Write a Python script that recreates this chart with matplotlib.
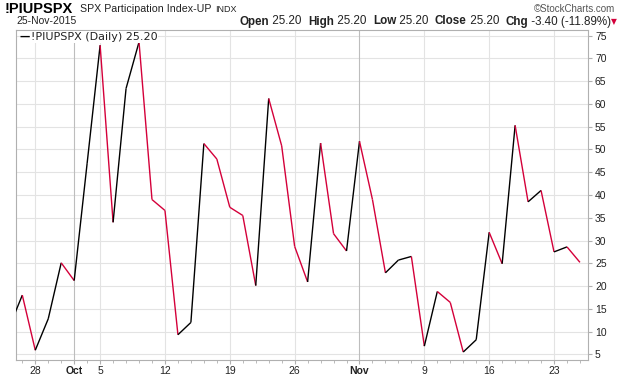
import matplotlib
matplotlib.use('Agg')
import matplotlib.pyplot as plt
from matplotlib.collections import LineCollection
import numpy as np
import pandas as pd

# ---- data ----
dates = pd.bdate_range('2015-09-24', '2015-11-25')
values = [11.0, 18.0, 5.9, 12.8, 25.1, 21.2, 47.0, 72.9, 34.0, 63.4,
          73.6, 39.0, 36.6, 9.3, 12.0, 51.3, 47.9, 37.3, 35.5, 20.1,
          61.2, 50.8, 28.7, 20.9, 51.4, 31.5, 27.7, 51.8, 39.0, 22.9,
          25.7, 26.5, 6.8, 18.8, 16.4, 5.5, 8.2, 31.8, 24.9, 55.3,
          38.5, 41.0, 27.5, 28.6, 25.2]
tick_dates = ['2015-09-28', '2015-10-01', '2015-10-05', '2015-10-12', '2015-10-19',
              '2015-10-26', '2015-11-02', '2015-11-09', '2015-11-16', '2015-11-23']
tick_labels = ['28', 'Oct', '5', '12', '19', '26', 'Nov', '9', '16', '23']
month_labels = ['Oct', 'Nov']
y_ticks = list(range(5, 80, 5))

UP = '#000000'
DOWN = '#d4003a'
GRID = '#e3e3e3'
MGRID = '#bdbdbd'
SPINE = '#b0b0b0'
TXT = '#222222'

fig = plt.figure(figsize=(6.2, 3.76), dpi=100)
W, H = 620, 376
ax = fig.add_axes([16 / W, 1 - 360 / H, (588 - 16) / W, (360 - 30) / H])

x = np.arange(len(values))
vals = np.array(values)
segs = [[(x[i], vals[i]), (x[i + 1], vals[i + 1])] for i in range(len(x) - 1)]
cols = [UP if vals[i + 1] >= vals[i] else DOWN for i in range(len(x) - 1)]
lc = LineCollection(segs, colors=cols, linewidths=1.0, zorder=3)
ax.add_collection(lc)

# grid
for yv in y_ticks:
    ax.axhline(yv, color=GRID, lw=0.8, zorder=1)
date_index = {d.strftime('%Y-%m-%d'): i for i, d in enumerate(dates)}
tick_pos = [date_index[d] for d in tick_dates]
for p, lab in zip(tick_pos, tick_labels):
    ax.axvline(p, color=MGRID if lab in month_labels else GRID, lw=0.8, zorder=1)

# axes styling
for s in ax.spines.values():
    s.set_color(SPINE)
    s.set_linewidth(0.8)
ax.yaxis.tick_right()
ax.set_yticks(y_ticks)
ax.set_yticklabels([str(v) for v in y_ticks], fontsize=7.5, color=TXT, family='Liberation Sans')
ax.tick_params(axis='y', length=3, color=SPINE, pad=2)
ax.set_xticks(tick_pos)
ax.set_xticklabels(tick_labels, fontsize=7.5, color=TXT, family='Liberation Sans')
for t in ax.get_xticklabels():
    if t.get_text() in month_labels:
        t.set_fontweight('bold')
ax.set_xticks(x[1:], minor=True)
ax.tick_params(axis='x', which='major', length=3, color=SPINE, pad=1)
ax.tick_params(axis='x', which='minor', length=2, color=SPINE)

ax.set_xlim(0.514, 44.62)
ax.set_ylim(3.75, 76.25)

# legend text
fig.text(20 / W, 1 - 37 / H, '\u2014', fontsize=7.5, color='black', va='center', ha='left',
         fontweight='bold', family='DejaVu Sans')
fig.text(31 / W, 1 - 37 / H, '!PIUPSPX (Daily) 25.20', fontsize=8, color=TXT, va='center',
         ha='left', family='DejaVu Sans',
         bbox=dict(facecolor='white', edgecolor='none', pad=0.5))

# header
fig.text(5 / W, 1 - 9 / H, '!PIUPSPX', fontsize=10.5, fontweight='bold', color='black',
         va='center', ha='left', family='Liberation Sans')
fig.text(80 / W, 1 - 9 / H, 'SPX Participation Index-UP', fontsize=7.7, color=TXT,
         va='center', ha='left', family='Liberation Sans')
fig.text(215 / W, 1 - 9 / H, 'INDX', fontsize=6.5, color=TXT,
         va='center', ha='left', family='Liberation Sans')
fig.text(615 / W, 1 - 8.5 / H, '\u00a9StockCharts.com', fontsize=7, color='#555555',
         va='center', ha='right', family='Liberation Sans')
fig.text(16 / W, 1 - 21.5 / H, '25-Nov-2015', fontsize=7.5, color=TXT,
         va='center', ha='left', family='Liberation Sans')

pieces = [('Open', True, TXT), (' 25.20  ', False, TXT), ('High', True, TXT),
          (' 25.20  ', False, TXT), ('Low', True, TXT), (' 25.20  ', False, TXT),
          ('Close', True, TXT), (' 25.20  ', False, TXT), ('Chg', True, TXT),
          (' -3.40 (-11.89%)', False, TXT), ('\u25bc', False, DOWN)]
renderer = fig.canvas.get_renderer()
texts = []
for s, b, c in pieces:
    fam = 'DejaVu Sans' if s == '\u25bc' else 'Liberation Sans'
    fs = 5.5 if s == '\u25bc' else 8.4
    t = fig.text(0, 1 - 21.5 / H, s, fontsize=fs, fontweight='bold' if b else 'normal',
                 color=c, va='center', ha='left', family=fam)
    texts.append(t)
widths = [t.get_window_extent(renderer).width for t in texts]
xcur = 617 - sum(widths)
for t, w in zip(texts, widths):
    t.set_x(xcur / W)
    xcur += w

fig.savefig('out.png', dpi=100)
